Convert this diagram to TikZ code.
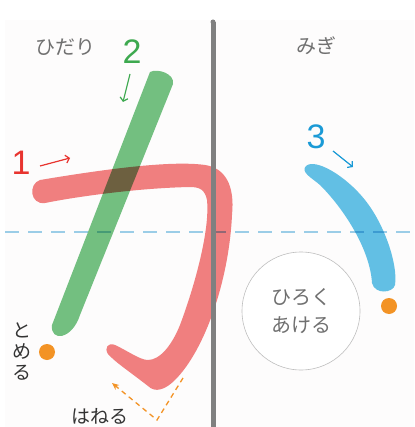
\documentclass[tikz,border=0pt]{standalone}
\usepackage{fontspec}
\setmainfont{Liberation Sans}
\newfontfamily\jpfont{Noto Sans CJK JP}
\usetikzlibrary{arrows.meta}

\definecolor{kared}{HTML}{F07F7F}
\definecolor{kagreen}{HTML}{74C282}
\definecolor{kablue}{HTML}{62BFE4}
\definecolor{numred}{HTML}{E8342F}
\definecolor{numgreen}{HTML}{3DA94F}
\definecolor{numblue}{HTML}{1A9AD6}
\definecolor{hint}{HTML}{F39325}
\definecolor{guide}{HTML}{9DD0EA}
\definecolor{panel}{HTML}{FDFCFC}
\definecolor{label}{HTML}{707070}

\tikzset{
  order/.style={draw=#1, line width=1.2pt, -{Straight Barb[length=3.5pt,width=8pt]}},
  num/.style={font=\fontsize{34}{36}\selectfont, inner sep=0pt},
  side/.style={font=\jpfont\fontsize{20}{22}\selectfont, text=label, inner sep=0pt},
  tip/.style={font=\jpfont\fontsize{19}{21}\selectfont, text=black!80, inner sep=0pt, align=center}
}

\begin{document}
\begin{tikzpicture}[x=1pt,y=-1pt]
			%%%%% START %%%%%
			\useasboundingbox (0,0) rectangle (414,427);
			\fill[white] (0,0) rectangle (414,427);
			\fill[panel] (5,20) rectangle (414,427);
			
			% stroke 1
			\fill[kared] (40,180) .. controls (100,170) and (170,160) .. (205,165)
			  .. controls (225,168) and (235,185) .. (232,215)
			  .. controls (229,280) and (205,350) .. (175,380)
			  .. controls (165,390) and (155,393) .. (148,386)
			  .. controls (130,372) and (115,362) .. (108,354)
			  .. controls (104,348) and (108,342) .. (115,345)
			  .. controls (128,351) and (140,360) .. (148,360)
			  .. controls (160,360) and (172,345) .. (180,325)
			  .. controls (195,285) and (210,230) .. (207,200)
			  .. controls (205,190) and (200,187) .. (190,187)
			  .. controls (140,188) and (80,196) .. (45,203)
			  .. controls (30,205) and (28,184) .. (40,180) -- cycle;
			
			% stroke 2
			\fill[kagreen, blend mode=multiply] (150,72) .. controls (158,68) and (175,74) .. (173,84)
			  -- (80,315) .. controls (72,340) and (50,342) .. (52,325) -- cycle;
			
			% stroke 3
			\fill[kablue] (306,166) .. controls (315,158) and (345,175) .. (365,200)
			  .. controls (385,225) and (398,265) .. (395,285)
			  .. controls (393,293) and (375,295) .. (372,283)
			  .. controls (370,250) and (345,210) .. (320,185)
			  .. controls (312,178) and (300,172) .. (306,166) -- cycle;
			
			\draw[guide, line width=1.4pt, dash pattern=on 14pt off 9pt, blend mode=multiply] (5,232) -- (414,232);
			\draw[black!50, line width=5pt] (213,427) -- (213,22);
			\fill[black!50] (213,22) circle (2.5);
			
			% labels
			\node[side] (left) at (65,47) {ひだり};
			\node[side] (right) at (316,46) {みぎ};
			
			\node[num, text=numred] (n1) at (21,163) {1};
			\node[num, text=numgreen] (n2) at (132,52) {2};
			\node[num, text=numblue] (n3) at (316,137) {3};
			
			\coordinate (a1s) at (40,166);
			\coordinate (a1e) at (70,158);
			\coordinate (a2s) at (130,74);
			\coordinate (a2e) at (123,102);
			\coordinate (a3s) at (333,151);
			\coordinate (a3e) at (353,167);
			\draw[order=numred] (a1s) -- (a1e);
			\draw[order=numgreen] (a2s) -- (a2e);
			\draw[order=numblue] (a3s) -- (a3e);
			
			\node[draw=black!25, line width=0.6pt, fill=white, circle, minimum size=118pt, inner sep=0pt] (wide) at (301,311) {};
			\node[side, font=\jpfont\fontsize{20}{28}\selectfont, align=center] (widetext) at (wide) {ひろく\\あける};
			
			\fill[hint] (47,352) circle (8) coordinate (stop);
			\fill[hint] (389,306) circle (8) coordinate (stop3);
			
			\node[tip] (tome) at (22,352) {と\\め\\る};
			\node[tip] (hane) at (100,416) {はねる};
			
			\coordinate (h1) at (183,378);
			\coordinate (h2) at (157,420);
			\coordinate (h3) at (112,383);
			\draw[hint, line width=1.3pt, dash pattern=on 5pt off 4pt, -{Stealth[length=7pt,width=6pt]}] (h1) -- (h2) -- (h3);
			%%%%% END %%%%%
\end{tikzpicture}
\end{document}
